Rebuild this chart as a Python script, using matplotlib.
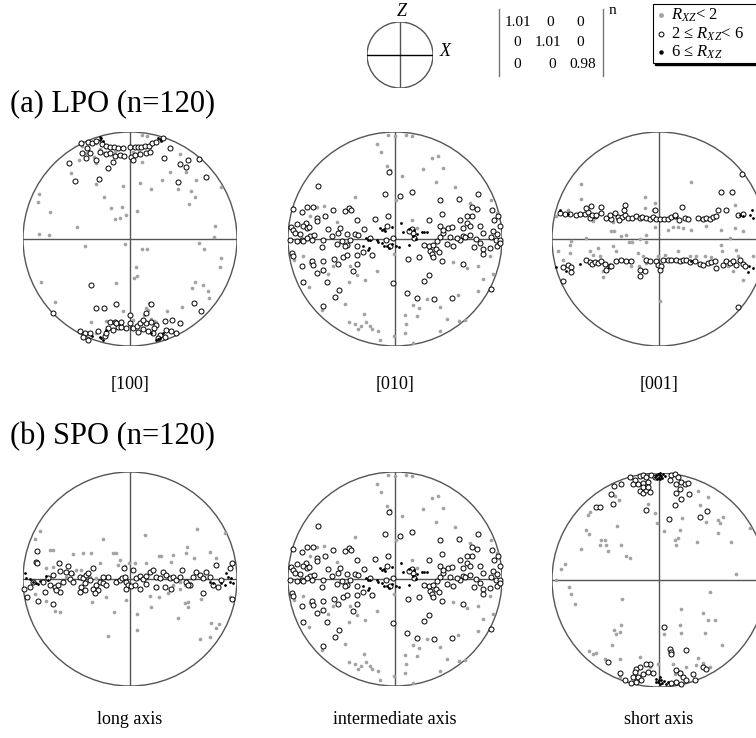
import numpy as np
import matplotlib
matplotlib.use("Agg")
import matplotlib.pyplot as plt
from matplotlib.patches import Circle, Rectangle
from matplotlib.lines import Line2D

plt.rcParams["font.family"] = ["Liberation Serif", "DejaVu Serif"]
plt.rcParams["mathtext.fontset"] = "custom"
plt.rcParams["mathtext.rm"] = "Liberation Serif"
plt.rcParams["mathtext.it"] = "Liberation Serif:italic"

# (a) [100]
a100_gray = [(428,46),(443,47),(248,78),(258,98),(300,88),(312,100),(290,128),(237,120),(213,158),
             (428,125),(540,103),(510,157),(560,157),(487,180),(535,207),(590,180),(573,212),(585,230),
             (568,253),(665,202),(420,190),(453,207),(370,198),(313,232),(290,192),(118,222),(115,245),
             (152,276),(335,264),(368,260),(412,272),(380,285),(360,293),(345,297),(233,321),(645,318),
             (643,352),(118,342),(147,345),(255,379),(377,371),(428,388),(442,388),(598,370),(613,388),
             (663,415),(662,440),(408,440),(413,468),(402,475),(123,486),(348,488),(585,486),(610,495),
             (578,505),(625,512),(628,533),(165,545),(547,560),(503,572),(438,565),(432,585),(445,570),
             (370,572),(318,602),(275,605),(448,548),(463,602),(265,88),(290,70),(320,98),(345,95),
             (400,95),(418,95),(450,80),(282,112),(400,600),(455,598),(470,605),(330,605),(290,640),(360,625)]
a100_open = [(245,70),(265,65),(278,70),(290,62),(308,72),(320,78),(330,80),(343,82),(355,83),(370,85),
             (392,82),(405,82),(415,80),(425,80),(437,77),(448,77),(458,70),(470,65),(490,55),(262,85),
             (248,100),(272,100),(300,95),(318,103),(330,100),(345,107),(360,105),(373,108),(395,110),
             (405,105),(420,102),(438,100),(452,95),(290,120),(258,115),(340,125),(325,145),(400,120),
             (207,128),(225,182),(298,177),(493,115),(510,85),(540,132),(565,120),(598,118),(535,185),
             (618,172),(560,140),(275,495),(348,552),(455,553),(288,565),(312,563),(390,585),(582,550),
             (605,572),(160,578),(517,600),(497,603),(540,608),(240,632),(255,638),(270,638),(295,632),
             (315,648),(330,605),(345,605),(325,625),(340,630),(355,622),(365,622),(378,625),(390,610),
             (400,625),(412,618),(420,610),(440,610),(455,605),(470,615),(462,625),(445,632),(430,628),
             (415,635),(498,630),(515,632),(530,640),(495,650),(480,645),(460,640),(250,650),(265,660),
             (320,640),(350,610),(365,605),(440,580),(430,600),(475,655)]
a100_black = [(305,55),(302,60),(310,62),(300,50),(480,58),(485,62),(475,55),(305,655),(310,660),
              (300,652),(475,658),(470,660),(480,655),(490,640),(278,648),(320,630),(455,640)]

# (a) [010] -- same net is reused for (b) intermediate axis
a010_gray = [(355,47),(375,50),(408,45),(425,48),(320,73),(332,98),(352,140),(360,150),(395,170),(458,148),
             (485,115),(503,108),(520,145),(497,188),(555,202),(625,222),(600,250),(663,242),(680,280),
             (255,232),(140,263),(163,258),(120,288),(377,242),(425,302),(440,325),(350,290),(200,308),
             (100,410),(73,420),(120,430),(157,455),(175,463),(190,440),(240,440),(260,465),(237,488),
             (285,480),(322,455),(372,402),(548,428),(590,445),(625,438),(660,410),(640,478),(668,462),
             (118,502),(155,570),(225,552),(283,582),(287,608),(237,608),(255,612),(300,620),(305,628),
             (273,620),(265,628),(325,633),(330,660),(372,650),(405,585),(408,613),(405,640),(430,555),
             (448,565),(470,538),(510,563),(530,597),(567,603),(585,600),(625,513),(565,527),(510,635),
             (440,590),(428,670)]
a010_open = [(143,200),(358,157),(345,222),(390,228),(425,217),(510,242),(567,237),(625,222),(68,268),
             (95,278),(112,263),(130,262),(190,272),(225,275),(237,265),(243,272),(165,290),(140,295),
             (108,310),(100,320),(80,312),(62,322),(70,330),(75,340),(90,342),(110,325),(118,322),(140,305),
             (175,327),(210,325),(205,340),(185,350),(120,348),(110,355),(95,360),(80,365),(60,360),
             (100,365),(132,345),(125,360),(160,360),(230,343),(255,343),(265,345),(260,300),(282,328),
             (300,355),(315,298),(350,318),(355,290),(368,355),(360,380),(348,362),(240,362),(230,375),
             (215,365),(200,372),(225,380),(260,380),(155,383),(65,400),(70,410),(95,438),(125,425),
             (128,435),(140,460),(160,450),(192,418),(205,433),(218,412),(232,405),(262,405),(262,432),
             (248,455),(305,405),(280,398),(415,418),(448,412),(480,395),(485,402),(478,380),(462,375),
             (490,375),(500,365),(510,352),(520,340),(535,325),(545,322),(520,330),(510,320),(478,300),
             (515,282),(570,302),(580,325),(590,310),(605,290),(620,268),(605,262),(590,288),(600,320),
             (630,318),(640,340),(578,350),(570,360),(548,380),(530,372),(540,352),(560,355),(585,352),
             (600,345),(618,358),(630,370),(660,385),(640,388),(638,402),(663,352),(677,360),(682,343),
             (690,318),(672,300),(665,270),(685,290),(690,362),(680,380),(690,370),(670,335),(425,328),
             (428,340),(432,355),(418,335),(498,388),(508,398),(488,412),(515,425),(580,432),(613,383),
             (462,485),(478,465),(410,520),(442,535),(493,537),(545,535),(195,533),(208,512),(100,487),
             (158,560),(368,490),(160,425),(662,508),(170,488)]
a010_black = [(330,325),(342,327),(365,322),(393,310),(400,338),(418,328),(433,332),(455,338),(462,338),
              (470,338),(440,343),(438,358),(288,355),(300,360),(320,360),(325,368),(335,370),(342,378),
              (350,380),(357,385),(365,372),(378,380),(388,383),(280,378),(293,390),(298,385),(418,375),
              (430,350),(295,360),(345,335),(335,332)]

# (a) [001]
a001_gray = [(125,193),(125,238),(455,188),(315,232),(345,250),(315,265),(340,272),(585,255),(85,270),
             (50,290),(160,305),(220,308),(215,335),(222,335),(245,350),(258,345),(268,368),(278,368),
             (300,358),(318,368),(318,345),(345,322),(385,330),(400,322),(415,322),(430,325),(455,330),
             (500,320),(545,330),(585,325),(610,335),(140,355),(55,395),(70,420),(90,400),(90,375),
             (95,365),(150,395),(160,405),(175,385),(180,410),(220,380),(230,395),(295,400),(310,410),
             (320,420),(355,410),(375,405),(415,395),(450,410),(470,408),(495,410),(515,412),(545,375),
             (548,395),(590,390),(595,410),(190,455),(275,440),(298,440),(320,430),(565,440),(580,455),
             (610,480),(640,410),(360,545),(190,472),(570,355)]
a001_open = [(60,280),(75,283),(90,283),(108,285),(120,283),(135,282),(145,278),(140,265),(155,258),
             (165,290),(150,295),(158,285),(170,285),(185,262),(185,280),(200,295),(215,297),(212,285),
             (225,280),(235,292),(248,293),(255,285),(253,272),(255,255),(265,295),(278,295),(290,290),
             (300,295),(308,293),(320,295),(330,297),(340,292),(350,298),(360,297),(372,298),(385,297),
             (395,292),(405,288),(418,300),(428,262),(435,295),(445,298),(475,295),(490,298),(500,295),
             (510,298),(520,292),(530,290),(535,270),(560,272),(545,218),(578,218),(608,163),(595,285),
             (610,282),(345,270),(405,285),(238,300),
             (70,442),(85,435),(95,443),(95,458),(70,484),(140,422),(150,428),(158,432),(165,428),
             (175,430),(185,425),(195,432),(210,438),(200,450),(215,440),(230,425),(245,422),(260,425),
             (275,425),(300,450),(315,455),(300,470),(320,420),(330,425),(350,425),(355,435),(365,440),
             (362,450),(370,420),(385,420),(395,420),(410,420),(420,425),(430,420),(440,420),(450,428),
             (465,425),(480,432),(490,435),(505,430),(515,428),(525,425),(530,445),(550,435),(560,425),
             (570,430),(580,425),(590,435),(600,420),(610,432),(615,440),(595,562)]
a001_black = [(62,270),(85,283),(600,285),(610,290),(632,285),(638,272),(640,295),
              (50,442),(80,455),(122,432),(455,425),(628,440),(640,445),(625,458)]

# (b) long axis
blong_gray = [(120,243),(105,268),(150,300),(160,300),(220,313),(250,310),(275,308),(310,267),(340,310),
              (350,310),(360,330),(388,340),(405,340),(440,340),(437,255),(478,317),(483,318),(520,315),
              (515,337),(558,310),(562,290),(593,237),(630,305),(650,325),(675,248),(582,325),(140,355),
              (160,350),(230,360),(245,360),(300,340),(355,345),(375,348),(200,380),(220,372),(270,380),
              (290,385),(540,395),(555,405),(570,400),(105,432),(138,452),(165,482),(180,487),(278,457),
              (318,440),(343,487),(380,450),(325,558),(412,493),(412,540),(450,437),(455,472),(478,442),
              (505,430),(540,418),(535,503),(555,460),(565,455),(565,470),(605,448),(600,567),(632,560),
              (635,520),(650,533),(657,522),(690,440),(440,400),(520,405)]
blong_open = [(113,303),(110,337),(113,340),(178,340),(205,348),(180,362),(200,365),(215,370),(160,375),
              (145,385),(130,395),(100,395),(92,410),(72,418),(82,440),(115,452),(160,463),(135,425),
              (150,405),(165,410),(175,405),(180,425),(170,420),(190,395),(210,388),(220,395),(240,380),
              (250,385),(260,375),(265,370),(280,355),(270,390),(255,400),(245,410),(240,425),(255,420),
              (280,418),(290,405),(300,395),(310,400),(320,405),(325,380),(310,380),(295,420),(285,430),
              (350,395),(360,390),(368,385),(375,380),(372,355),(380,395),(385,405),(378,418),(395,408),
              (405,405),(400,360),(410,385),(420,378),(430,388),(440,378),(450,365),(460,360),(470,380),
              (480,385),(490,365),(500,375),(510,385),(520,380),(530,390),(540,380),(548,360),(560,395),
              (570,405),(580,380),(590,365),(600,375),(610,385),(620,365),(630,380),(640,405),(650,345),
              (655,410),(665,390),(690,355),(698,338),(698,447),(422,418),(470,410),(495,410),(515,418),
              (610,430),(440,402),(565,405)]
blong_black = [(75,370),(80,385),(90,388),(100,395),(108,398),(115,402),(120,392),(140,378),(145,390),
               (665,398),(675,405),(685,380),(690,395),(700,400),(680,370),(695,385),(630,395),(640,400)]

# (b) short axis
bshort_gray = [(145,195),(150,185),(138,240),(148,250),(125,295),(183,268),(197,268),(182,285),(198,285),
               (205,302),(245,285),(232,228),(260,318),(272,322),(65,355),(75,342),(48,390),(88,410),
               (95,430),(105,462),(248,445),(245,525),(222,540),(230,550),(240,545),(218,585),(148,602),
               (160,610),(170,607),(195,625),(240,625),(353,218),(372,242),(405,270),(410,285),(415,262),
               (422,240),(428,203),(472,275),(480,165),(498,215),(505,140),(535,210),(540,218),(550,200),
               (535,248),(575,275),(630,233),(590,372),(475,122),(325,160),(345,187),(238,150),(225,138),
               (510,425),(425,475),(490,488),(505,508),(525,508),(422,525),(423,547),(497,548),(548,585),
               (372,552),(475,622),(490,638),(470,645),(510,650),(440,650),(400,640),(405,670),(425,665),
               (260,690),(240,680),(300,620),(330,650),(355,640)]
bshort_open = [(270,80),(285,90),(300,78),(310,75),(320,80),(335,75),(345,80),(280,100),(295,100),
               (310,98),(325,95),(300,122),(310,128),(320,120),(330,125),(310,110),(325,110),(395,75),
               (405,72),(415,80),(390,90),(410,100),(425,95),(435,100),(445,98),(420,115),(410,128),
               (425,145),(448,130),(405,163),(387,205),(480,200),(502,182),(245,100),(222,108),(215,130),
               (220,162),(168,170),(180,170),(320,178),(373,530),(390,595),(393,605),(395,612),(440,598),
               (330,640),(320,640),(300,650),(290,655),(285,665),(280,680),(295,680),(310,670),(325,665),
               (340,668),(305,690),(290,695),(275,698),(410,660),(420,668),(430,680),(440,690),(410,695),
               (395,698),(425,700),(460,670),(465,690),(490,650),(500,655),(240,668),(255,688),(205,635)]
bshort_black = [(350,75),(355,72),(360,75),(365,78),(370,72),(358,82),(352,85),(362,86),(368,82),
                (345,80),(375,77),(360,68),(350,685),(358,690),(365,688),(372,692),(360,700),(355,695),
                (368,698),(348,695),(378,700),(362,680),(385,695)]

labels_a = ["[100]", "[010]", "[001]"]
labels_b = ["long axis", "intermediate axis", "short axis"]
matrix = [["1.01", "0", "0"], ["0", "1.01", "0"], ["0", "0", "0.98"]]
legend_labels = [r"$R_{XZ}$< 2", r"2 ≤ $R_{XZ}$< 6", r"6 ≤ $R_{XZ}$"]

### FIGURE

W, H = 756, 738
fig = plt.figure(figsize=(W / 100, H / 100), dpi=100)
R = 321
GRAY = "#a3a3a3"
LINE = "#555555"


def net(fx, fy, cx, cy, gray, opn, black, r_px=107):
    # fx, fy: net centre in figure pixels; cx, cy: centre in reading units
    ax = fig.add_axes([(fx - r_px) / W, 1 - (fy + r_px) / H, 2 * r_px / W, 2 * r_px / H])
    ax.set_xlim(cx - R, cx + R)
    ax.set_ylim(cy + R, cy - R)
    ax.axis("off")
    ax.add_patch(Circle((cx, cy), R, fill=False, ec=LINE, lw=1.0, zorder=1))
    ax.plot([cx, cx], [cy - R, cy + R], color=LINE, lw=1.0, zorder=1)
    ax.plot([cx - R, cx + R], [cy, cy], color=LINE, lw=1.0, zorder=1)
    g = np.array(gray); o = np.array(opn); b = np.array(black)
    ax.scatter(g[:, 0], g[:, 1], s=7, c=GRAY, lw=0, zorder=2, clip_on=False)
    ax.scatter(o[:, 0], o[:, 1], s=13, facecolors="white", edgecolors="black", lw=0.7, zorder=3, clip_on=False)
    ax.scatter(b[:, 0], b[:, 1], s=4, c="black", lw=0, zorder=4, clip_on=False)
    return ax


net(130, 239, 391, 357, a100_gray, a100_open, a100_black)
net(395, 239, 375, 358, a010_gray, a010_open, a010_black)
net(659, 239, 358, 358, a001_gray, a001_open, a001_black)
net(130, 579, 391, 387, blong_gray, blong_open, blong_black)
net(395, 579, 375, 358, a010_gray, a010_open, a010_black)
net(659, 580, 358, 389, bshort_gray, bshort_open, bshort_black)


def fig_xy(x, y):
    return x / W, 1 - y / H


for lab, x in zip(labels_a, [130, 395, 659]):
    fig.text(*fig_xy(x, 384), lab, ha="center", va="center", fontsize=13)
for lab, x in zip(labels_b, [130, 395, 659]):
    fig.text(*fig_xy(x, 719), lab, ha="center", va="center", fontsize=13)

fig.text(*fig_xy(10, 104), "(a) LPO (n=120)", ha="left", va="center", fontsize=22)
fig.text(*fig_xy(10, 437), "(b) SPO (n=120)", ha="left", va="center", fontsize=22)

# small reference net
ax0 = fig.add_axes([(400 - 33) / W, 1 - (55 + 33) / H, 66 / W, 66 / H])
ax0.set_xlim(-1, 1); ax0.set_ylim(-1, 1); ax0.axis("off")
ax0.add_patch(Circle((0, 0), 1, fill=False, ec=LINE, lw=1.0))
ax0.plot([0, 0], [-1, 1], color=LINE, lw=1.0)
ax0.plot([-1, 1], [0, 0], color="black", lw=1.0)
fig.text(*fig_xy(402, 12), "Z", style="italic", ha="center", va="center", fontsize=13)
fig.text(*fig_xy(445, 52), "X", style="italic", ha="center", va="center", fontsize=13)

# matrix
col_x = [[518, 550, 580], [517, 548, 580], [517, 552, 583]]
for i, row in enumerate(matrix):
    for j, v in enumerate(row):
        fig.text(*fig_xy(col_x[i][j], 22 + 21 * i), v, ha="center", va="center", fontsize=11)
for bx in [499, 603]:
    fig.add_artist(Line2D([bx / W, bx / W], [1 - 9 / H, 1 - 76 / H], color="#777777", lw=1.0))
fig.text(*fig_xy(612, 10), "n", ha="center", va="center", fontsize=11)

# legend box with shadow
fig.add_artist(Rectangle(((653 + 2) / W, 1 - (63 + 2) / H), 120 / W, 59 / H, transform=fig.transFigure,
                         fc="black", ec="black", lw=1))
fig.add_artist(Rectangle((653 / W, 1 - 63 / H), 120 / W, 59 / H, transform=fig.transFigure,
                         fc="white", ec="black", lw=0.8))
rows_y = [15, 34, 52]
fig.add_artist(Line2D([661 / W], [1 - rows_y[0] / H], marker="o", ms=2.5, mfc=GRAY, mec=GRAY, ls=""))
fig.add_artist(Line2D([661 / W], [1 - rows_y[1] / H], marker="o", ms=3.5, mfc="white", mec="black", mew=0.7, ls=""))
fig.add_artist(Line2D([661 / W], [1 - rows_y[2] / H], marker="o", ms=2.2, mfc="black", mec="black", ls=""))
for lab, y in zip(legend_labels, rows_y):
    fig.text(*fig_xy(671, y), lab, ha="left", va="center", fontsize=12)

fig.savefig("out.png", dpi=100)
